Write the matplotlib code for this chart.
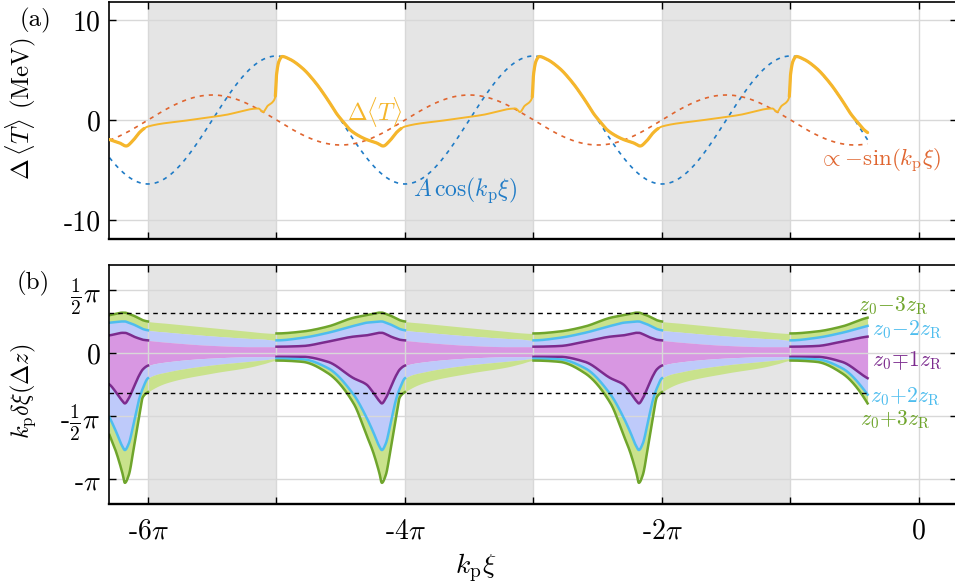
import numpy as np
import matplotlib.pyplot as plt

plt.rcParams['font.family'] = 'serif'
plt.rcParams['font.serif'] = ['cmr10']
plt.rcParams['mathtext.fontset'] = 'cm'
plt.rcParams['axes.unicode_minus'] = False

PI = np.pi

# range of the data (units of pi) and start of each shaded interval [s, s+1]
x_start, x_end = -6.3, -0.4
shade_starts = [-6, -4, -2]

# amplitudes of the reference curves (MeV)
A_cos = -6.4
B_sin = 2.5

# energy change over one period; phase in units of pi after a shaded start
dT_phase = [0.0, 0.3, 0.6, 0.86, 0.895, 0.93, 0.97, 0.99, 1.0, 1.02, 1.045,
            1.1, 1.2, 1.3, 1.4, 1.47, 1.52, 1.57, 1.63, 1.70, 1.78, 1.83,
            1.88, 1.93, 1.97, 2.0]
dT_value = [-0.65, -0.05, 0.5, 1.15, 0.8, 1.4, 1.8, 2.3, 4.5, 5.9, 6.35,
            6.1, 5.2, 3.8, 2.0, 0.6, -0.2, -0.95, -1.5, -1.95, -2.3, -2.6,
            -2.1, -1.3, -0.85, -0.65]

# phase slip band edges over one period (units of pi)
band_phase = [0.0, 0.15, 0.5, 0.8, 0.9, 1.0, 1.2, 1.4, 1.6, 1.7, 1.75, 1.8,
              1.82, 1.85, 1.89, 1.93, 1.96, 2.0]
edge_m3 = [0.25, 0.235, 0.20, 0.17, 0.16, 0.155, 0.17, 0.21, 0.28, 0.30, 0.31,
           0.32, 0.32, 0.31, 0.295, 0.275, 0.26, 0.25]
edge_m2 = [0.18, 0.165, 0.135, 0.115, 0.11, 0.10, 0.12, 0.16, 0.215, 0.24,
           0.245, 0.25, 0.25, 0.24, 0.225, 0.205, 0.19, 0.18]
edge_m1 = [0.10, 0.085, 0.06, 0.05, 0.05, 0.05, 0.055, 0.09, 0.13, 0.14, 0.15,
           0.16, 0.16, 0.15, 0.13, 0.115, 0.105, 0.10]
edge_p1 = [-0.10, -0.07, -0.04, -0.03, -0.03, -0.03, -0.03, -0.07, -0.20,
           -0.25, -0.31, -0.38, -0.40, -0.36, -0.27, -0.18, -0.13, -0.10]
edge_p2 = [-0.20, -0.15, -0.095, -0.065, -0.055, -0.045, -0.05, -0.12, -0.33,
           -0.51, -0.62, -0.74, -0.77, -0.72, -0.55, -0.37, -0.28, -0.20]
edge_p3 = [-0.31, -0.235, -0.16, -0.11, -0.085, -0.06, -0.07, -0.16, -0.40,
           -0.65, -0.78, -0.95, -1.03, -0.97, -0.75, -0.51, -0.35, -0.31]

band_labels = [r'$z_0\!-\!3z_{\rm R}$', r'$z_0\!-\!2z_{\rm R}$',
               r'$z_0\!\mp\!1z_{\rm R}$', r'$z_0\!+\!2z_{\rm R}$',
               r'$z_0\!+\!3z_{\rm R}$']

c_yellow = '#F5B62C'
c_orange = '#E0652F'
c_blue = '#1F7BC6'
c_green_l, c_green_f = '#6FA52C', '#C9E28C'
c_cyan_l, c_blue_f = '#4EBDEE', '#BECAFA'
c_purple_l, c_purple_f = '#7C2B8E', '#D897E2'
c_shade = '#E5E5E5'
c_grid = '#D8D8D8'


def periodic_pchip(xk, yk, x, period=2.0):
    # monotone cubic through the knots, wrapped around one period
    xk = np.asarray(xk, float)
    yk = np.asarray(yk, float)
    xe = np.concatenate([[xk[-2] - period], xk, [xk[1] + period]])
    ye = np.concatenate([[yk[-2]], yk, [yk[1]]])
    h = np.diff(xe)
    d = np.diff(ye) / h
    m = np.zeros_like(ye)
    for i in range(1, len(xe) - 1):
        if d[i - 1] * d[i] > 0:
            w1 = 2 * h[i] + h[i - 1]
            w2 = h[i] + 2 * h[i - 1]
            m[i] = (w1 + w2) / (w1 / d[i - 1] + w2 / d[i])
    m[0], m[-1] = d[0], d[-1]
    idx = np.clip(np.searchsorted(xe, x, side='right') - 1, 0, len(h) - 1)
    t = (x - xe[idx]) / h[idx]
    h00 = 2 * t**3 - 3 * t**2 + 1
    h10 = t**3 - 2 * t**2 + t
    h01 = -2 * t**3 + 3 * t**2
    h11 = t**3 - t**2
    return (h00 * ye[idx] + h10 * h[idx] * m[idx] + h01 * ye[idx + 1]
            + h11 * h[idx] * m[idx + 1])


# sampling grid (units of pi) including all interval borders
xs = np.linspace(x_start, x_end, 4000)
borders = [s + k for s in shade_starts for k in (0, 1)]
xs = np.unique(np.concatenate([xs, borders]))
phase = np.mod(xs + 6, 2.0)
phase[np.isclose(phase, 2.0)] = 0.0
X = xs * PI
white = phase >= 1.0 - 1e-9
for s in shade_starts:
    white |= np.isclose(xs, s)

fig = plt.figure(figsize=(9.55, 5.88), dpi=100)
ax1 = fig.add_axes([109 / 955, 1 - 239 / 588, 848 / 955, 237 / 588])
ax2 = fig.add_axes([109 / 955, 1 - 504 / 588, 848 / 955, 239 / 588])

for ax in (ax1, ax2):
    for s in shade_starts:
        ax.axvspan(s * PI, (s + 1) * PI, color=c_shade, lw=0, zorder=0)
    ax.set_xlim(-6.3035 * PI, 0.2958 * PI)
    ax.set_xticks(np.arange(-6, 1) * PI)
    ax.grid(True, color=c_grid, lw=1.0)
    ax.set_axisbelow('line')
    ax.tick_params(direction='in', top=True, right=True, length=5, width=1,
                   labelsize=20, pad=6)
    for sp in ax.spines.values():
        sp.set_linewidth(1.2)
    ax.spines['bottom'].set_linewidth(1.7)

# (a) energy change
ax1.plot(X, A_cos * np.cos(X), ls=(0, (2.5, 3)), color=c_blue, lw=1.2, zorder=2)
ax1.plot(X, B_sin * np.sin(X), ls=(0, (2.5, 3)), color=c_orange, lw=1.2, zorder=2)
dT = periodic_pchip(dT_phase, dT_value, phase)
ax1.plot(X, dT, color=c_yellow, lw=1.4, zorder=3)
thick = (phase >= 0.99) & (phase <= 1.97)
ax1.plot(X, np.ma.masked_where(~thick, dT), color=c_yellow, lw=2.3,
         solid_capstyle='round', zorder=3)
ax1.set_ylim(-11.9, 11.8)
ax1.set_yticks([-10, 0, 10])
ax1.set_yticklabels(['-10', '0', '10'])
ax1.set_xticklabels([])
ax1.set_ylabel(r'$\Delta\,\langle T\rangle$ (MeV)', fontsize=18)
ax1.yaxis.set_label_coords(-0.084, 0.55)
ax1.text(-4.451 * PI, 0.8, r'$\Delta\langle T\rangle$', color=c_yellow,
         fontsize=17, ha='left', va='center')
ax1.text(-3.938 * PI, -7.0, r'$A\,\cos(k_{\rm p}\xi)$', color=c_blue,
         fontsize=17, ha='left', va='center')
ax1.text(-0.786 * PI, -4.1, r'$\propto\!-\!\sin(k_{\rm p}\xi)$', color=c_orange,
         fontsize=16.5, ha='left', va='center')

# (b) phase slip bands
edges = [periodic_pchip(band_phase, e, phase) * PI
         for e in (edge_m3, edge_m2, edge_m1, edge_p1, edge_p2, edge_p3)]
fills = [c_green_f, c_blue_f, c_purple_f, c_blue_f, c_green_f]
for lo, hi, fc in zip(edges[1:], edges[:-1], fills):
    ax2.fill_between(X, lo, hi, color=fc, lw=0, zorder=1)
line_cols = [c_green_l, c_cyan_l, c_purple_l, c_purple_l, c_cyan_l, c_green_l]
for e, lc in zip(edges, line_cols):
    ax2.plot(X, np.ma.masked_where(~white, e), color=lc, lw=1.8, zorder=2)
for lvl in (1, -1):
    ax2.plot([x_start * PI, x_end * PI], [lvl, lvl], color='k', lw=1.0,
             ls=(0, (3.3, 3)), zorder=2)
ax2.set_ylim(-1.198 * PI, 0.698 * PI)
ax2.set_yticks([-PI, -PI / 2, 0, PI / 2])
ax2.set_yticklabels([r'-$\pi$', r'-$\frac{1}{2}\pi$', '0', r'$\frac{1}{2}\pi$'])
ax2.set_xticklabels(['-6$\\pi$', '', '-4$\\pi$', '', '-2$\\pi$', '', '0'])
ax2.tick_params(axis='x', pad=10)
ax2.set_ylabel(r'$k_{\rm p}\delta\xi(\Delta z)$', fontsize=17.5)
ax2.yaxis.set_label_coords(-0.084, 0.47)
ax2.set_xlabel(r'$k_{\rm p}\xi$', fontsize=20)
ax2.xaxis.set_label_coords(0.433, -0.20)
ax2.xaxis.label.set_va('top')

label_pos = [(-0.475, 0.372), (-0.366, 0.185), (-0.366, -0.063),
             (-0.381, -0.345), (-0.459, -0.532)]
label_cols = [c_green_l, c_cyan_l, c_purple_l, c_cyan_l, c_green_l]
for txt, (lx, ly), lc in zip(band_labels, label_pos, label_cols):
    ax2.text(lx * PI, ly * PI, txt, color=lc, fontsize=15.5, ha='left',
             va='center')

fig.text(35 / 955, 1 - 20 / 588, '(a)', fontsize=18, ha='center', va='center')
fig.text(33 / 955, 1 - 283 / 588, '(b)', fontsize=18, ha='center', va='center')

fig.savefig('out.png', dpi=100)
